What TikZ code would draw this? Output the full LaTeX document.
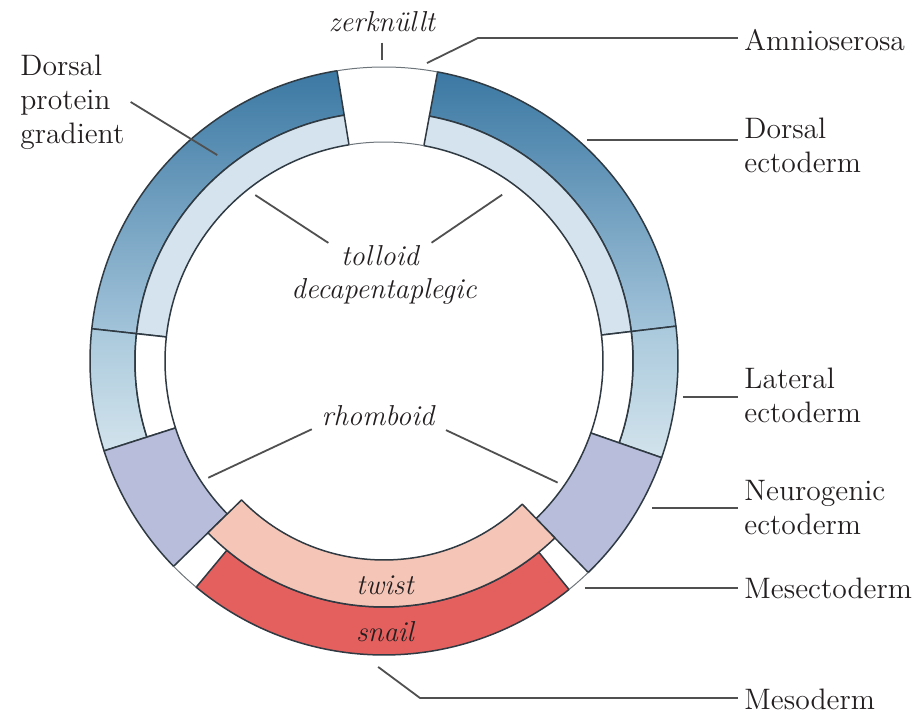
\documentclass[tikz,border=0pt]{standalone}

\definecolor{dorsaldark}{HTML}{3B78A3}
\definecolor{dorsallight}{HTML}{A3C4DA}
\definecolor{dorsalpale}{HTML}{D4E3EE}
\definecolor{lateraltop}{HTML}{A9C9DC}
\definecolor{lateralbottom}{HTML}{D2E3EC}
\definecolor{neurolilac}{HTML}{B8BDDC}
\definecolor{twistpink}{HTML}{F5C6B7}
\definecolor{snailred}{HTML}{E3605E}
\definecolor{edgegray}{HTML}{2F3A42}
\definecolor{leadergray}{HTML}{505050}
\definecolor{inktext}{HTML}{231F20}

\tikzset{
  ringedge/.style={draw=edgegray, line width=0.75pt, line join=round},
  gapedge/.style={draw=edgegray!70, line width=0.5pt},
  leader/.style={draw=leadergray, line width=0.9pt},
  regionname/.style={anchor=west, align=left, inner sep=3pt, text=inktext,
    font=\fontsize{14.8}{17}\selectfont},
  genename/.style={inner sep=2pt, text=inktext,
    font=\fontsize{14.4}{17}\selectfont\itshape},
}

% one piece of the ring: start angle, end angle, outer radius, inner radius
\newcommand{\ringpiece}[4]{(#1:#3) arc[start angle=#1, end angle=#2, radius=#3]
  -- (#2:#4) arc[start angle=#2, end angle=#1, radius=#4] -- cycle}

\begin{document}
\begin{tikzpicture}[x=0.5pt, y=0.5pt]
  \useasboundingbox (-384,-354) rectangle (539,361);

  % dorsal ectoderm: shaded outer band, pale inner band
  \draw[ringedge, top color=dorsaldark, bottom color=dorsallight] \ringpiece{99.2}{173.7}{294}{249};
  \draw[ringedge, top color=dorsaldark, bottom color=dorsallight] \ringpiece{6.8}{79.5}{294}{249};
  \draw[ringedge, fill=dorsalpale] \ringpiece{99.2}{173.7}{249}{219};
  \draw[ringedge, fill=dorsalpale] \ringpiece{6.8}{79.5}{249}{219};

  % lateral ectoderm
  \draw[ringedge, top color=lateraltop, bottom color=lateralbottom] \ringpiece{173.7}{197.8}{294}{249};
  \draw[ringedge, top color=lateraltop, bottom color=lateralbottom] \ringpiece{-19.2}{6.8}{294}{249};
  \draw[ringedge, fill=white] \ringpiece{173.7}{197.8}{249}{219};
  \draw[ringedge, fill=white] \ringpiece{-19.2}{6.8}{249}{219};

  % neurogenic ectoderm
  \draw[ringedge, fill=neurolilac] \ringpiece{197.8}{224.3}{294}{219};
  \draw[ringedge, fill=neurolilac] \ringpiece{-46}{-19.2}{294}{219};

  % mesoderm: snail outside, twist inside
  \draw[ringedge, fill=snailred] \ringpiece{230.3}{309}{294}{246};
  \draw[ringedge, fill=twistpink] \ringpiece{224.3}{314}{246}{199};

  % thin arcs over the white gaps
  \draw[gapedge] (79.5:294) arc[start angle=79.5, end angle=99.2, radius=294];
  \draw[gapedge] (79.5:219) arc[start angle=79.5, end angle=99.2, radius=219];
  \draw[gapedge] (224.3:294) arc[start angle=224.3, end angle=230.3, radius=294];
  \draw[gapedge] (309:294) arc[start angle=309, end angle=314, radius=294];

  % gene names
  \node[genename] (zerk) at (-2,339) {zerknüllt};
  \node[genename] (tolloid) at (-4,105) {tolloid};
  \node[genename] (dpp) at (0,70) {decapentaplegic};
  \node[genename] (rhomboid) at (-6,-55) {rhomboid};
  \node[genename] (twist) at (1,-224) {twist};
  \node[genename] (snail) at (1,-271) {snail};

  \coordinate (zerk-tip) at (-2,301);
  \coordinate (tolloid-left) at (127.8:210);
  \coordinate (tolloid-right) at (54.6:204);
  \coordinate (rhomboid-left) at (213.6:211);
  \coordinate (rhomboid-right) at (-35:212);

  \draw[leader] (zerk.south) ++(0,-6) -- (zerk-tip);
  \draw[leader, shorten <=5pt] (tolloid.170) -- (tolloid-left);
  \draw[leader, shorten <=5pt] (tolloid.10) -- (tolloid-right);
  \draw[leader, shorten <=3pt] (rhomboid.190) -- (rhomboid-left);
  \draw[leader, shorten <=4pt] (rhomboid.-10) -- (rhomboid-right);

  % region names
  \node[regionname] (gradient) at (-370,259) {Dorsal\\protein\\gradient};
  \node[regionname] (amnio) at (354,321) {Amnioserosa};
  \node[regionname] (dorsalecto) at (354,216) {Dorsal\\ectoderm};
  \node[regionname] (lateral) at (354,-34) {Lateral\\ectoderm};
  \node[regionname] (neuro) at (354,-147) {Neurogenic\\ectoderm};
  \node[regionname] (mesecto) at (354,-227) {Mesectoderm};
  \node[regionname] (meso) at (354,-338) {Mesoderm};

  \coordinate (gradient-tip) at (129:265);
  \coordinate (amnio-tip) at (81.8:301);
  \coordinate (amnio-bend) at (94,323);
  \coordinate (dorsalecto-tip) at (47.4:300);
  \coordinate (lateral-tip) at (-6.9:301);
  \coordinate (neuro-tip) at (-28.7:306);
  \coordinate (mesecto-tip) at (-48.5:303);
  \coordinate (meso-tip) at (268.9:306);
  \coordinate (meso-bend) at (36,-337);

  \draw[leader] (gradient.east) -- (gradient-tip);
  \draw[leader] (amnio-tip) -- (amnio-bend) -- (amnio-bend -| amnio.west);
  \draw[leader] (dorsalecto-tip) -- (dorsalecto-tip -| dorsalecto.west);
  \draw[leader] (lateral-tip) -- (lateral-tip -| lateral.west);
  \draw[leader] (neuro-tip) -- (neuro-tip -| neuro.west);
  \draw[leader] (mesecto-tip) -- (mesecto-tip -| mesecto.west);
  \draw[leader] (meso-tip) -- (meso-bend) -- (meso-bend -| meso.west);
\end{tikzpicture}
\end{document}
